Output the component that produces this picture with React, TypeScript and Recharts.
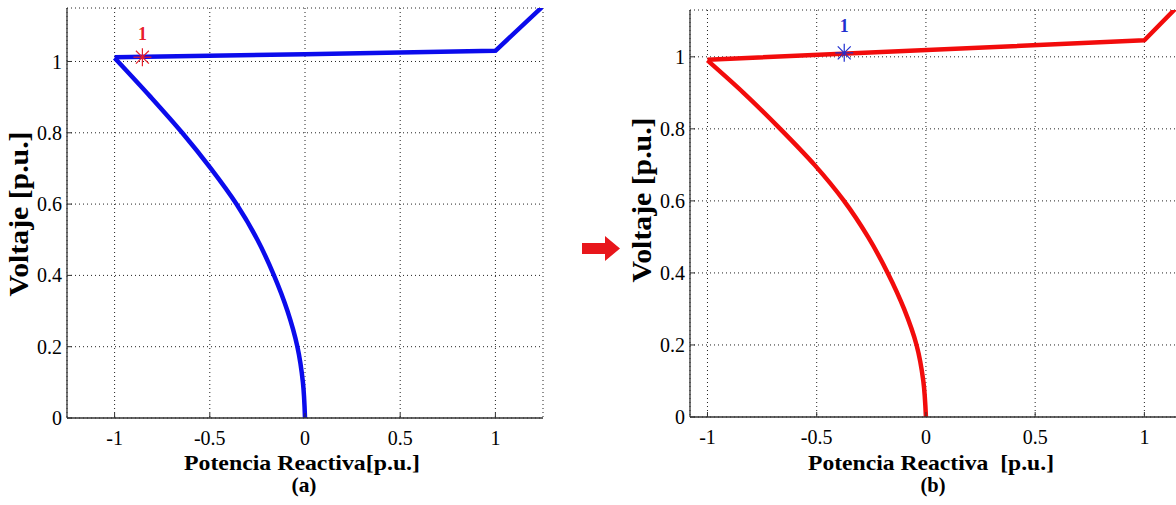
import React from 'react';
import { ComposedChart, Line, Scatter, XAxis, YAxis, CartesianGrid } from 'recharts';

const SERIF = '"Liberation Serif", "Times New Roman", serif';

const Q_TICKS = [-1, -0.5, 0, 0.5, 1];
const V_TICKS = [0, 0.2, 0.4, 0.6, 0.8, 1];

// (a) upper and lower branches of the Q-V curve
const A_UPPER_Q = [-1, 0, 1, 1.25];
const A_UPPER_V = [1.012, 1.02, 1.03, 1.155];
const A_LOWER_Q = [-1, -0.81, -0.645, -0.495, -0.36, -0.25, -0.163, -0.092, -0.04, -0.011, 0];
const A_LOWER_V = [1.01, 0.9, 0.8, 0.7, 0.6, 0.5, 0.4, 0.3, 0.2, 0.1, 0];
const A_POINT = [{ q: -0.854, v: 1.012, tag: '1' }];

// (b)
const B_UPPER_Q = [-1, 1, 1.25];
const B_UPPER_V = [0.992, 1.046, 1.2];
const B_LOWER_Q = [-1, -0.835, -0.667, -0.51, -0.375, -0.265, -0.175, -0.1, -0.043, -0.012, 0];
const B_LOWER_V = [0.99, 0.9, 0.8, 0.7, 0.6, 0.5, 0.4, 0.3, 0.2, 0.1, 0];
const B_POINT = [{ q: -0.374, v: 1.011, tag: '1' }];

const zip = (qs: number[], vs: number[]) => qs.map((q, i) => ({ q, v: vs[i] }));

const BORDER = '#333';
const tickStyle = { fill: '#000', fontSize: 20, fontFamily: SERIF };

const starShape = (color: string, labelDy: number) => (props: any) => {
  const { cx, cy, payload } = props;
  const r = 9;
  const d = r * 0.72;
  return (
    <g>
      <g stroke={color} strokeWidth={1.2}>
        <line x1={cx - r} y1={cy} x2={cx + r} y2={cy} />
        <line x1={cx} y1={cy - r} x2={cx} y2={cy + r} />
        <line x1={cx - d} y1={cy - d} x2={cx + d} y2={cy + d} />
        <line x1={cx - d} y1={cy + d} x2={cx + d} y2={cy - d} />
      </g>
      <text x={cx} y={cy + labelDy} textAnchor="middle" fill={color} fontSize={18} fontWeight="bold" fontFamily={SERIF}>
        {payload.tag}
      </text>
    </g>
  );
};

const xCaption = (cx: number, title: string, titleLen: number, sub: string) => () => (
  <g fontFamily={SERIF} fontWeight="bold" fill="#000" textAnchor="middle">
    <text x={cx} y={469.5} fontSize={22} textLength={titleLen} lengthAdjust="spacingAndGlyphs" style={{ whiteSpace: 'pre' }}>
      {title}
    </text>
    <text x={cx + 2} y={492} fontSize={21} textLength={25} lengthAdjust="spacingAndGlyphs">
      {sub}
    </text>
  </g>
);

const yCaption = (baseX: number, cy: number) => () => (
  <text
    transform="rotate(-90)"
    x={-cy}
    y={baseX}
    textAnchor="middle"
    fontFamily={SERIF}
    fontWeight="bold"
    fontSize={27}
    fill="#000"
    textLength={165}
    lengthAdjust="spacingAndGlyphs"
  >
    Voltaje [p.u.]
  </text>
);

type PanelProps = {
  width: number;
  margin: { top: number; right: number; bottom: number; left: number };
  yAxisWidth: number;
  xAxisHeight: number;
  qDomain: [number, number];
  vDomain: [number, number];
  upper: { q: number; v: number }[];
  lower: { q: number; v: number }[];
  point: { q: number; v: number; tag: string }[];
  lineColor: string;
  pointColor: string;
  labelDy: number;
  xLabel: () => React.ReactElement;
  yLabel: () => React.ReactElement;
};

function QVPanel(p: PanelProps) {
  return (
    <ComposedChart width={p.width} height={505} margin={p.margin}>
      <CartesianGrid stroke="#222" strokeDasharray="1 3" />
      <XAxis
        type="number"
        dataKey="q"
        domain={p.qDomain}
        ticks={Q_TICKS}
        interval={0}
        allowDataOverflow
        height={p.xAxisHeight}
        tickSize={-5}
        tickMargin={17.5}
        axisLine={{ stroke: BORDER, strokeWidth: 1.3 }}
        tickLine={{ stroke: BORDER }}
        tick={tickStyle}
        label={p.xLabel}
      />
      <XAxis
        xAxisId="top"
        orientation="top"
        type="number"
        domain={p.qDomain}
        ticks={Q_TICKS}
        interval={0}
        allowDataOverflow
        height={0}
        tickSize={-5}
        axisLine={{ stroke: BORDER, strokeWidth: 1.3 }}
        tickLine={{ stroke: BORDER }}
        tick={false}
      />
      <YAxis
        type="number"
        dataKey="v"
        domain={p.vDomain}
        ticks={V_TICKS}
        interval={0}
        allowDataOverflow
        width={p.yAxisWidth}
        tickSize={-5}
        tickMargin={10}
        axisLine={{ stroke: BORDER, strokeWidth: 1.3 }}
        tickLine={{ stroke: BORDER }}
        tick={tickStyle}
        label={p.yLabel}
      />
      <YAxis
        yAxisId="right"
        orientation="right"
        type="number"
        domain={p.vDomain}
        ticks={V_TICKS}
        interval={0}
        allowDataOverflow
        width={0}
        tickSize={-5}
        axisLine={{ stroke: BORDER, strokeWidth: 1.3 }}
        tickLine={{ stroke: BORDER }}
        tick={false}
      />
      <Line
        data={p.upper}
        dataKey="v"
        type="linear"
        stroke={p.lineColor}
        strokeWidth={4.5}
        strokeLinejoin="round"
        dot={false}
        activeDot={false}
        isAnimationActive={false}
      />
      {/* lower branch is monotone in voltage, so smooth it along y */}
      <Line
        data={p.lower}
        dataKey="v"
        type="monotoneY"
        stroke={p.lineColor}
        strokeWidth={4.5}
        strokeLinejoin="round"
        dot={false}
        activeDot={false}
        isAnimationActive={false}
      />
      <Scatter data={p.point} dataKey="v" shape={starShape(p.pointColor, p.labelDy)} isAnimationActive={false} />
    </ComposedChart>
  );
}

export default function App() {
  return (
    <div style={{ position: 'absolute', left: 0, top: 0, width: 1176, height: 505, overflow: 'hidden', background: '#fff' }}>
      <div style={{ position: 'absolute', left: 0, top: 0 }}>
        <QVPanel
          width={560}
          margin={{ top: 8, right: 17, bottom: 0, left: 0 }}
          yAxisWidth={67}
          xAxisHeight={87}
          qDomain={[-1.25, 1.25]}
          vDomain={[0, 1.15]}
          upper={zip(A_UPPER_Q, A_UPPER_V)}
          lower={zip(A_LOWER_Q, A_LOWER_V)}
          point={A_POINT}
          lineColor="#0b0bec"
          pointColor="#e8202a"
          labelDy={-17}
          xLabel={xCaption(302, 'Potencia Reactiva[p.u.]', 236, '(a)')}
          yLabel={yCaption(27.5, 214)}
        />
      </div>
      <svg style={{ position: 'absolute', left: 576, top: 230 }} width={50} height={40}>
        <polygon points="6,13 29,13 29,6 44,18.5 29,31 29,24 6,24" fill="#e8161b" />
      </svg>
      <div style={{ position: 'absolute', left: 580, top: 0 }}>
        <QVPanel
          width={640}
          margin={{ top: 10, right: 21, bottom: 0, left: 0 }}
          yAxisWidth={110}
          xAxisHeight={88}
          qDomain={[-1.08, 1.25]}
          vDomain={[0, 1.13]}
          upper={zip(B_UPPER_Q, B_UPPER_V)}
          lower={zip(B_LOWER_Q, B_LOWER_V)}
          point={B_POINT}
          lineColor="#f20c0c"
          pointColor="#1f2fd0"
          labelDy={-21}
          xLabel={xCaption(351, 'Potencia Reactiva  [p.u.]', 246, '(b)')}
          yLabel={yCaption(70.7, 200)}
        />
      </div>
    </div>
  );
}
